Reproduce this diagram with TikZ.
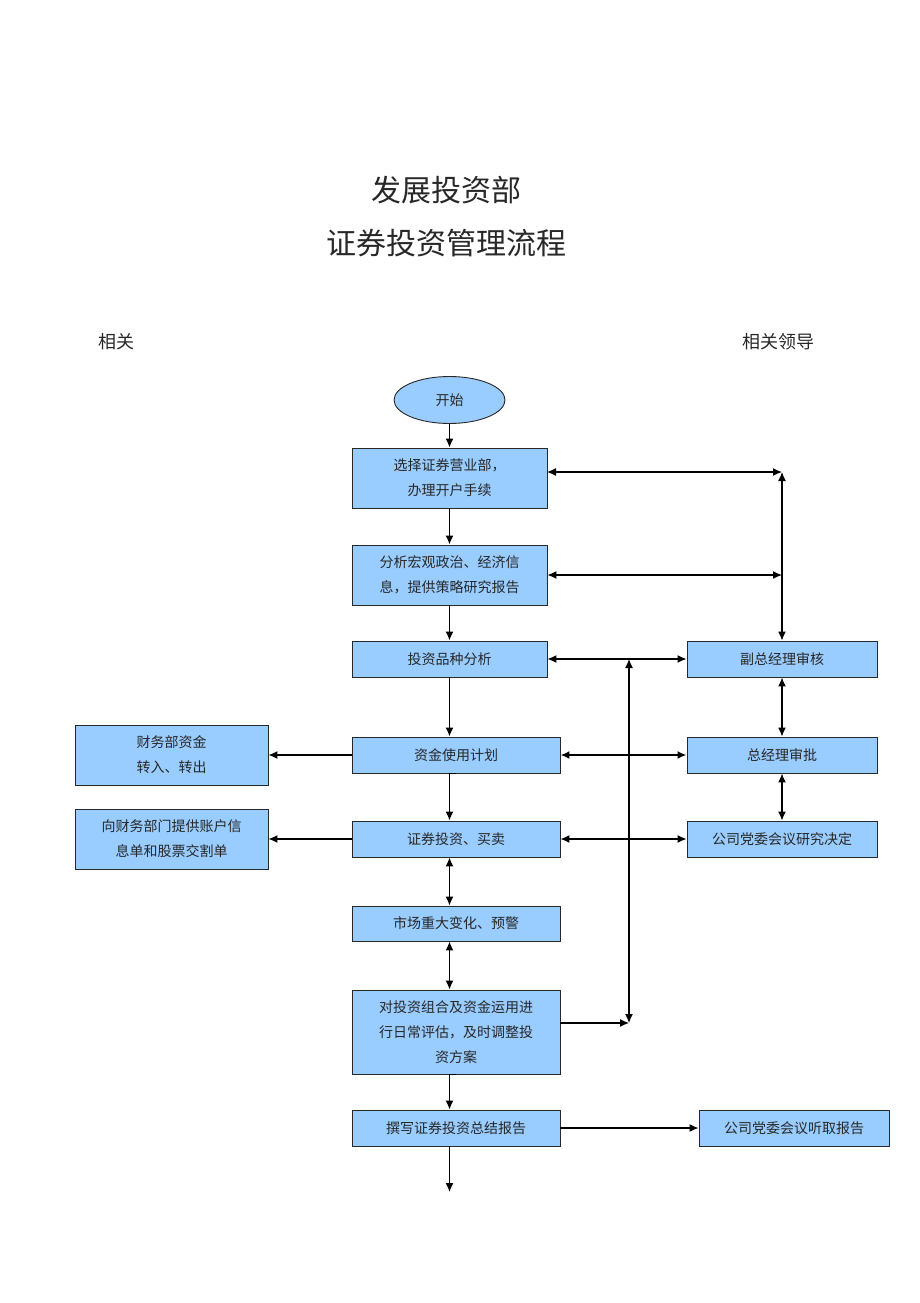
\documentclass[tikz,border=0pt]{standalone}
\usepackage{fontspec}
\newfontfamily\cjk{Noto Sans CJK SC}
\usetikzlibrary{shapes.geometric,arrows.meta,shadows}
\definecolor{boxblue}{RGB}{153,204,255}
\definecolor{inkgray}{RGB}{40,40,40}

\begin{document}
\begin{tikzpicture}
        [x=1pt,y=-1pt,thick,
        every node/.style={font=\cjk\fontsize{14}{25}\selectfont,text=inkgray,inner sep=1pt},
        box/.style={shape=rectangle,draw=inkgray,line width=0.9pt,fill=boxblue,align=center,
          drop shadow={shadow xshift=1.3pt,shadow yshift=-1.3pt,fill=black!75,opacity=1}},
        arr/.style={-{Latex[length=9pt,width=8pt]},line width=1.3pt,draw=black},
        both/.style={{Latex[length=9pt,width=8pt]}-{Latex[length=9pt,width=8pt]},line width=1.3pt,draw=black}]
        \useasboundingbox (0,0) rectangle (920,1303);
        %% titles
        \node[font=\cjk\fontsize{30}{30}\selectfont] (t1) at (446,190) {发展投资部};
        \node[font=\cjk\fontsize{30}{30}\selectfont] (t2) at (446,243) {证券投资管理流程};
        \node[font=\cjk\fontsize{18}{18}\selectfont] (h1) at (116,342) {相关};
        \node[font=\cjk\fontsize{18}{18}\selectfont] (h2) at (778,342) {相关领导};
        %% main column
        \node[shape=ellipse,draw=inkgray,line width=0.9pt,fill=boxblue,minimum width=111,minimum height=47] (start) at (449.5,400) {开始};
        \node[box,minimum width=195,minimum height=60] (A) at (449.5,478) {选择证券营业部，\\办理开户手续};
        \node[box,minimum width=195,minimum height=60] (B) at (449.5,575) {分析宏观政治、经济信\\息，提供策略研究报告};
        \node[box,minimum width=195,minimum height=36] (C) at (449.5,659) {投资品种分析};
        \node[box,minimum width=208,minimum height=36] (D) at (456,755) {资金使用计划};
        \node[box,minimum width=208,minimum height=36] (E) at (456,839) {证券投资、买卖};
        \node[box,minimum width=208,minimum height=35] (F) at (456,923.5) {市场重大变化、预警};
        \node[box,minimum width=208,minimum height=84] (G) at (456,1032) {对投资组合及资金运用进\\行日常评估，及时调整投\\资方案};
        \node[box,minimum width=208,minimum height=36] (H) at (456,1128) {撰写证券投资总结报告};
        %% left column
        \node[box,minimum width=193,minimum height=60] (L1) at (171.5,755) {财务部资金\\转入、转出};
        \node[box,minimum width=193,minimum height=60] (L2) at (171.5,839) {向财务部门提供账户信\\息单和股票交割单};
        %% right column
        \node[box,minimum width=190,minimum height=36] (R1) at (782,659) {副总经理审核};
        \node[box,minimum width=190,minimum height=36] (R2) at (782,755) {总经理审批};
        \node[box,minimum width=190,minimum height=36] (R3) at (782,839) {公司党委会议研究决定};
        \node[box,minimum width=190,minimum height=36] (R4) at (794,1128) {公司党委会议听取报告};
        \coordinate (aout) at (547,472);
        \coordinate (up) at (629,659);
        \coordinate (gout) at (560,1023);
        \coordinate (dn) at (629,1023);
        \coordinate (endH) at (449.5,1192);
        %% connectors
        \foreach \startNode/\endNode in {start/A, A/B, B/C, C/D, D/E, G/H}
        {
          \draw[arr] (\startNode.south) -- (\startNode.south -| start.south) -- (start.south |- \endNode.north);
        };
        \foreach \startNode/\endNode in {E/F, F/G}
        {
          \draw[both] (start.south |- \startNode.south) -- (start.south |- \endNode.north);
        };
        \draw[arr] (start.south |- H.south) -- (endH);
        \draw[both] (aout) -- (aout -| R1.north);
        \draw[both] (B.east) -- (B.east -| R1.north);
        \draw[both] (R1.north) -- (aout -| R1.north);
        \draw[both] (C.east) -- (R1.west);
        \draw[both,line width=1.8pt] (D.east) -- (R2.west);
        \draw[both] (E.east) -- (R3.west);
        \draw[both] (R1.south) -- (R2.north);
        \draw[both] (R2.south) -- (R3.north);
        \draw[both] (up) -- (dn);
        \draw[arr] (gout) -- (dn);
        \draw[arr] (D.west) -- (L1.east);
        \draw[arr] (E.west) -- (L2.east);
        \draw[arr] (H.east) -- (R4.west);
\end{tikzpicture}
\end{document}
